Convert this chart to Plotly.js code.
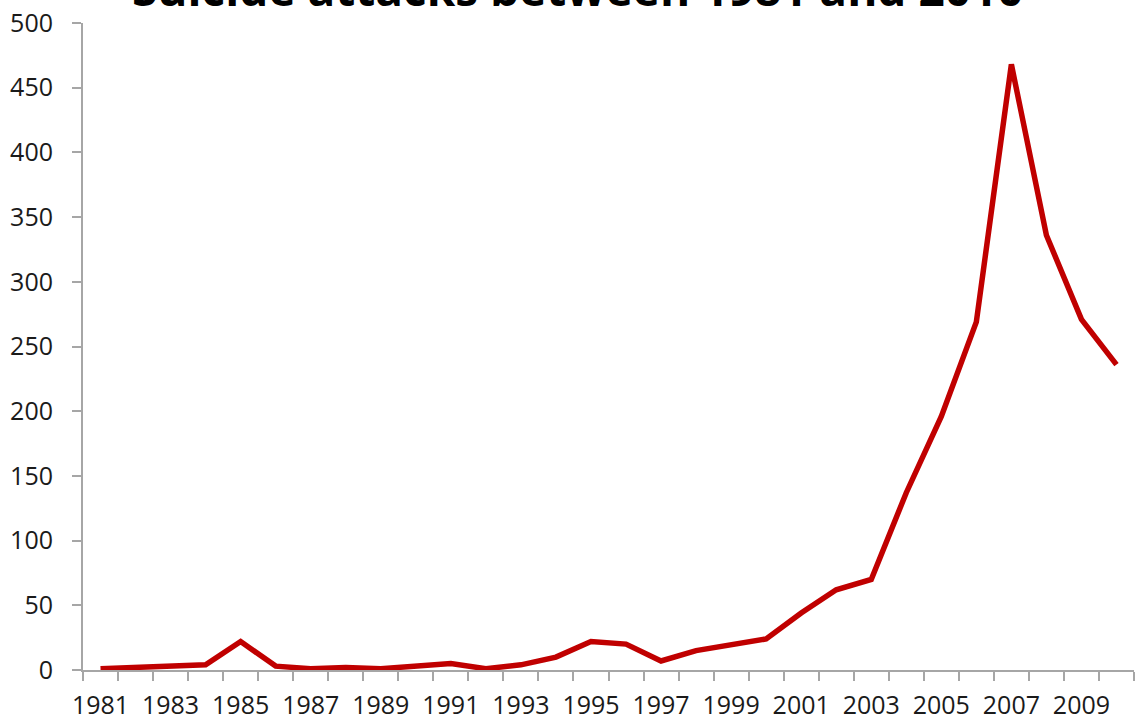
<!DOCTYPE html>
<html>
<head>
<meta charset="utf-8">
<script src="https://cdn.plot.ly/plotly-3.0.1.min.js"></script>
<style>html,body{margin:0;padding:0;background:#fff;}#chart{width:1136px;height:720px;}</style>
</head>
<body>
<div id="chart"></div>
<script>
const years = [1981,1982,1983,1984,1985,1986,1987,1988,1989,1990,
               1991,1992,1993,1994,1995,1996,1997,1998,1999,2000,
               2001,2002,2003,2004,2005,2006,2007,2008,2009,2010];
const attacks = [1,2,4,4,22,3,1,2,1,3,
                 5,1,4,10,22,20,7,15,20,24,
                 44,62,70,137,196,269,468,336,271,236];
const xTickLabels = ["1981","1983","1985","1987","1989","1991","1993","1995","1997","1999","2001","2003","2005","2007","2009"];
const xTickVals = xTickLabels.map(Number);
const titleText = "Suicide attacks between 1981 and 2010";

const axisColor = "#a6a6a6";
const textColor = "#1a1a1a";
const fontFam = "'Open Sans', sans-serif";

Plotly.newPlot("chart", [{
  x: years, y: attacks, type: "scatter", mode: "lines",
  line: {color: "#c00000", width: 5.5, shape: "linear"},
  hoverinfo: "skip"
}], {
  width: 1136, height: 720,
  margin: {l: 83, r: 2, t: 23, b: 50, pad: 0},
  paper_bgcolor: "#fff", plot_bgcolor: "#fff",
  showlegend: false,
  font: {family: fontFam, color: textColor, size: 24},
  xaxis: {
    range: [1980.5, 2010.5], tickvals: xTickVals, ticktext: xTickLabels,
    ticks: "", showgrid: false, zeroline: false,
    showline: true, linecolor: axisColor, linewidth: 2,
    ticklabelstandoff: 12,
    tickfont: {family: fontFam, size: 25, color: textColor},
    minor: {tick0: 1980.5, dtick: 1, ticks: "outside", ticklen: 9, tickwidth: 2, tickcolor: axisColor, showgrid: false}
  },
  yaxis: {
    range: [0, 500], dtick: 50, tick0: 0,
    ticks: "outside", ticklen: 9, tickwidth: 2, tickcolor: axisColor,
    showgrid: false, zeroline: false,
    showline: true, linecolor: axisColor, linewidth: 2,
    ticklabelstandoff: 14,
    tickfont: {family: fontFam, size: 25, color: textColor}
  },
  annotations: [{
    text: "<b>" + titleText + "</b>", xref: "paper", yref: "paper",
    x: 0.471, y: 1, xanchor: "center", yanchor: "bottom", yshift: 2,
    showarrow: false, font: {family: fontFam, size: 46, color: "#000"}
  }]
}, {displayModeBar: false, staticPlot: true});
</script>
</body>
</html>
